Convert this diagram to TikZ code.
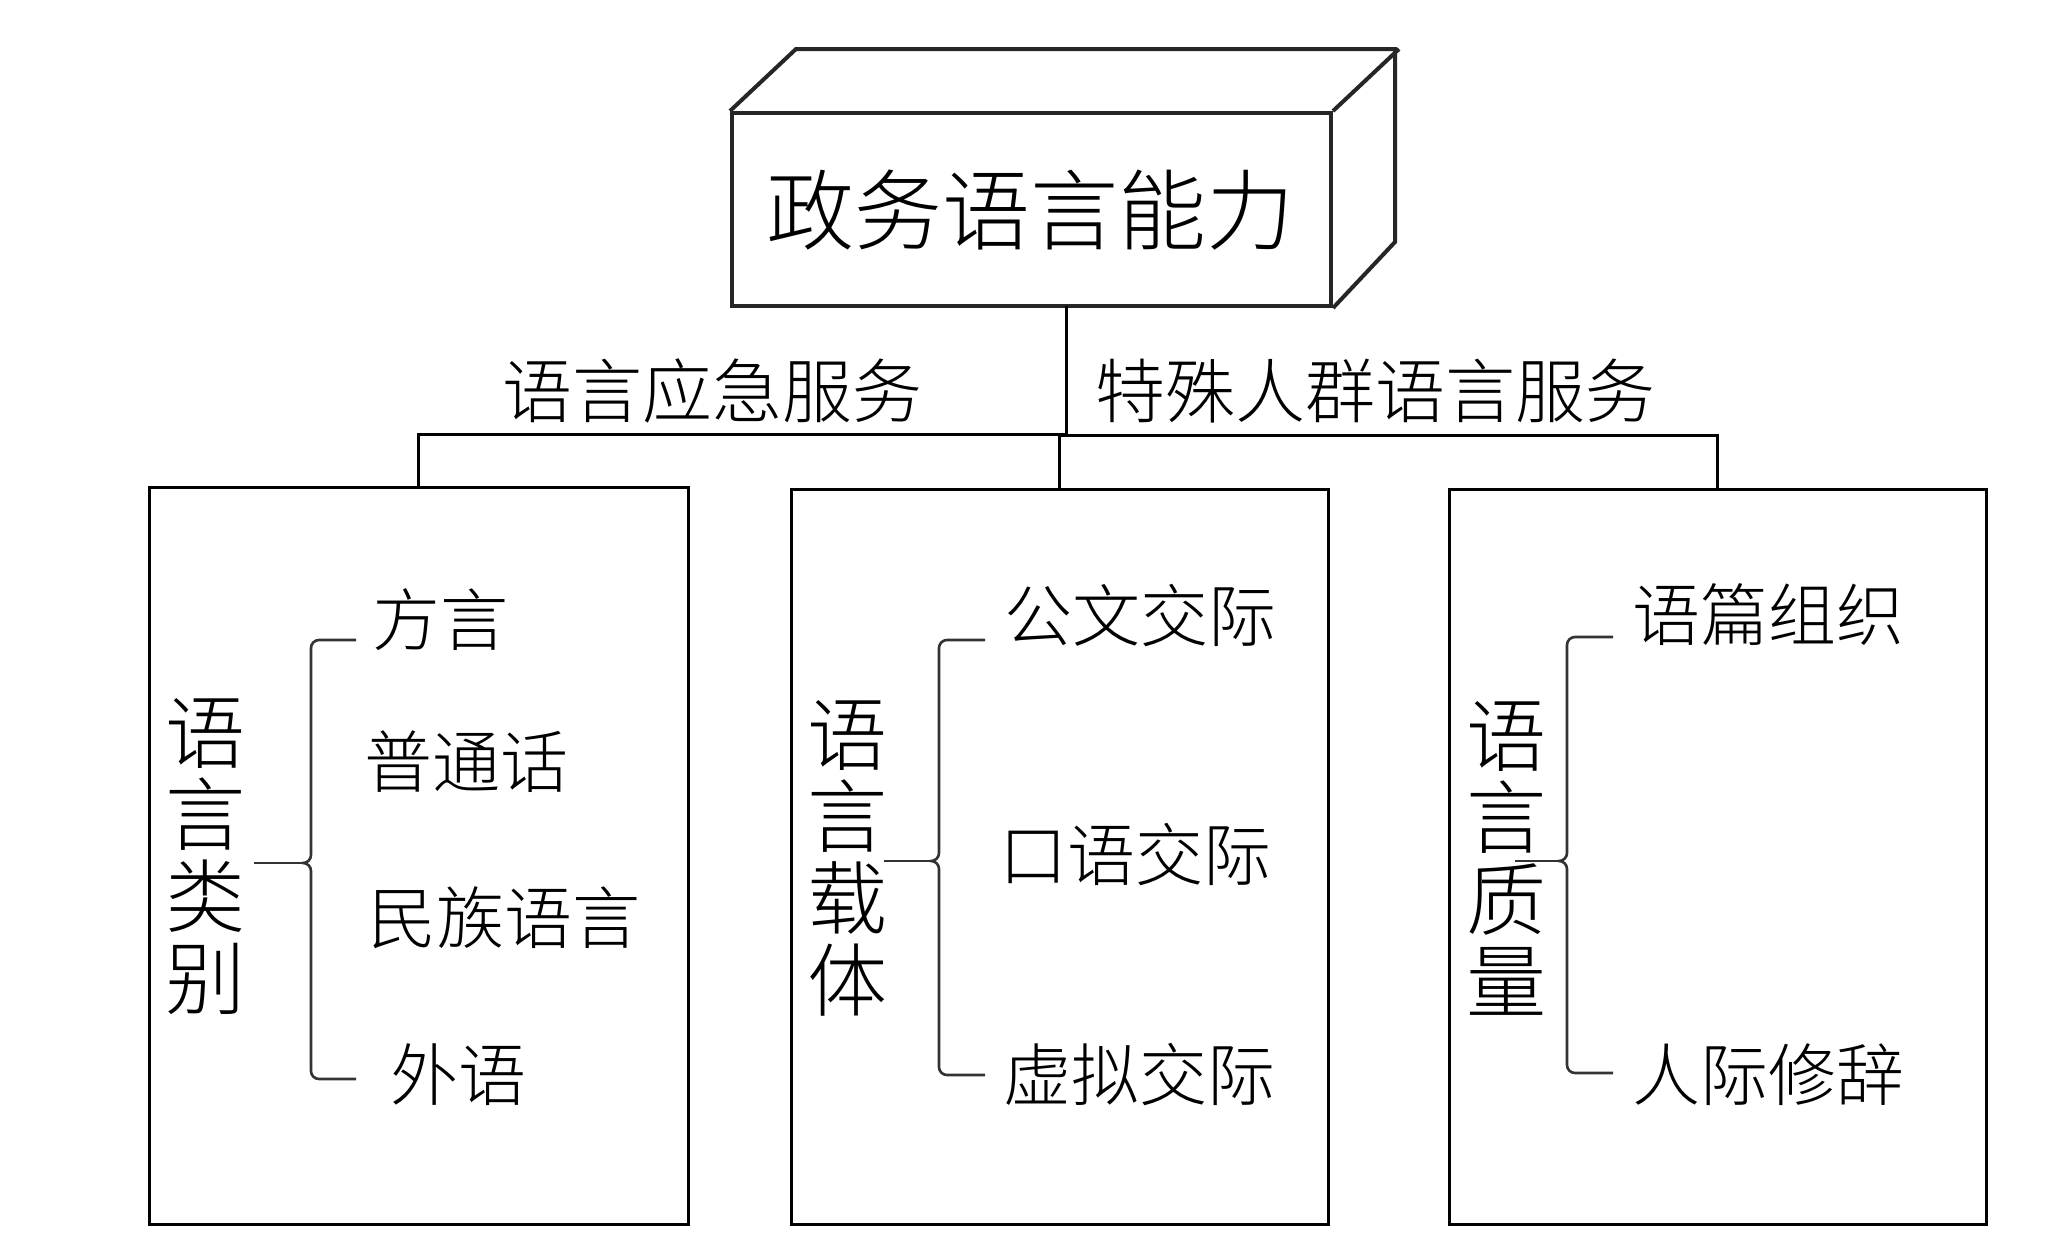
\documentclass[tikz,border=0pt]{standalone}
\usepackage{fontspec}
\newfontfamily\cjk{Noto Sans CJK SC Light}
\begin{document}
\begin{tikzpicture}[x=1pt,y=-1pt,
  frame/.style={draw=black, line width=3pt, fill=none},
  cube/.style={draw=black!85, line width=4pt, line join=miter},
  conn/.style={draw=black, line width=3pt},
  bracestyle/.style={draw=black!80, line width=2.6pt},
  toptext/.style={font=\cjk\fontsize{88pt}{100pt}\selectfont, inner sep=0pt},
  labtext/.style={font=\cjk\fontsize{70pt}{80pt}\selectfont, inner sep=0pt},
  vtext/.style={font=\cjk\fontsize{80pt}{82pt}\selectfont, align=center, inner sep=0pt},
  itemtext/.style={font=\cjk\fontsize{68pt}{78pt}\selectfont, inner sep=0pt}]
\useasboundingbox[fill=white] (0,0) rectangle (2048,1250);

\newcommand\mybrace[6]{%
  \draw[bracestyle] (#5,#2) -- (#1+8,#2) to[out=180,in=90] (#1,#2+8) -- (#1,#4-8)
    to[out=-90,in=0] (#1-8,#4) to[out=0,in=90] (#1,#4+8) -- (#1,#3-8)
    to[out=-90,in=180] (#1+8,#3) -- (#5,#3);
  \draw[bracestyle] (#6,#4) -- (#1-8,#4);}

% top cube
\node[cube, minimum width=599pt, minimum height=193pt, inner sep=0pt] (top) at (1031.5,209.5) {};
\draw[cube] (top.north west) -- ++(66,-62) -- ++(599,0) -- ++(0,193) -- (top.south east);
\draw[cube] (top.north east) -- ++(66,-62);
\node[toptext] (toplab) at (1030,210) {政务语言能力};
\coordinate (topc) at (1066,306);

% boxes
\node[frame, minimum width=539pt, minimum height=737pt, inner sep=0pt] (b1) at (418.5,855.5) {};
\node[frame, minimum width=537pt, minimum height=735pt, inner sep=0pt] (b2) at (1059.5,856.5) {};
\node[frame, minimum width=537pt, minimum height=735pt, inner sep=0pt] (b3) at (1717.5,856.5) {};

% connectors
\draw[conn] (topc) -- ++(0,131) coordinate (jn);
\draw[conn] (topc) ++(0,128) -| (b1.north);
\draw[conn] (b2.north) -- ++(0,-52) -| (b3.north);

% edge labels
\node[labtext] (l1) at (712,391) {语言应急服务};
\node[labtext] (l2) at (1375,391) {特殊人群语言服务};

% left box
\node[vtext] (c1) at (205,857) {语\\言\\类\\别};
\mybrace{311}{640}{1079}{863}{356}{254}
\node[itemtext] (i11) at (440,620) {方言};
\node[itemtext] (i12) at (466,762) {普通话};
\node[itemtext] (i13) at (504,918) {民族语言};
\node[itemtext] (i14) at (458,1075) {外语};

% middle box
\node[vtext] (c2) at (847,858) {语\\言\\载\\体};
\mybrace{939}{640}{1075}{861}{985}{884}
\node[itemtext] (i21) at (1140,616) {公文交际};
\node[itemtext] (i22) at (1135,855) {口语交际};
\node[itemtext] (i23) at (1139,1075) {虚拟交际};

% right box
\node[vtext] (c3) at (1506,858) {语\\言\\质\\量};
\mybrace{1567}{637}{1073}{861}{1613}{1515}
\node[itemtext] (i31) at (1768,615) {语篇组织};
\node[itemtext] (i32) at (1768,1075) {人际修辞};
\end{tikzpicture}
\end{document}
